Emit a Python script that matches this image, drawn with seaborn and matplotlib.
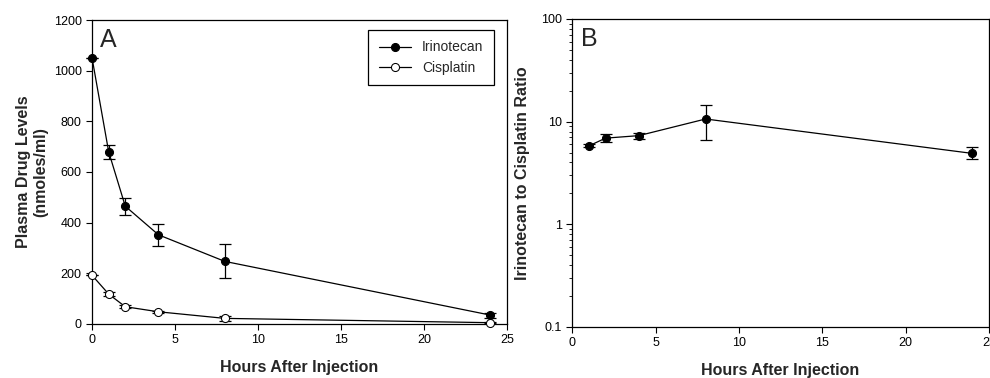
import numpy as np
import pandas as pd
import seaborn as sns
import matplotlib.pyplot as plt

# Panel A data - plasma levels (nmoles/ml)
hours = [0, 1, 2, 4, 8, 24]
irinotecan = [1050, 680, 465, 352, 247, 35]
irinotecan_err = [0, 27, 34, 43, 67, 10]
cisplatin = [192, 118, 68, 48, 22, 5]
cisplatin_err = [0, 8, 5, 4, 10, 2]

# Panel B data - ratio
ratio_hours = [1, 2, 4, 8, 24]
ratio = [5.8, 6.9, 7.3, 10.6, 4.9]
ratio_lo = [5.6, 6.3, 6.8, 6.6, 4.3]
ratio_hi = [6.0, 7.6, 7.8, 14.5, 5.6]

sns.set_style("ticks")
plt.rcParams['font.family'] = ['Liberation Sans', 'DejaVu Sans']
plt.rcParams['axes.linewidth'] = 0.9
plt.rcParams['xtick.major.width'] = 0.8
plt.rcParams['ytick.major.width'] = 0.8
plt.rcParams['xtick.color'] = 'black'
plt.rcParams['ytick.color'] = 'black'
plt.rcParams['axes.edgecolor'] = 'black'

fig = plt.figure(figsize=(9.9, 3.78), dpi=100)
ax1 = fig.add_axes([0.093, 0.143, 0.419, 0.804])
ax2 = fig.add_axes([0.578, 0.135, 0.421, 0.815])

df = pd.DataFrame({"hours": hours * 2,
                   "level": irinotecan + cisplatin,
                   "drug": ["Irinotecan"] * 6 + ["Cisplatin"] * 6})

ms = 5.8
# error bars first
ax1.errorbar(hours, irinotecan, yerr=irinotecan_err, fmt='none', ecolor='black',
             elinewidth=0.9, capsize=4, capthick=0.9, zorder=2, clip_on=False)
ax1.errorbar(hours, cisplatin, yerr=cisplatin_err, fmt='none', ecolor='black',
             elinewidth=0.9, capsize=4, capthick=0.9, zorder=2, clip_on=False)

sns.lineplot(data=df[df.drug == "Irinotecan"], x="hours", y="level", ax=ax1,
             color='black', lw=0.9, marker='o', markersize=ms,
             markerfacecolor='black', markeredgecolor='black',
             label="Irinotecan", zorder=3, clip_on=False)
sns.lineplot(data=df[df.drug == "Cisplatin"], x="hours", y="level", ax=ax1,
             color='black', lw=0.9, marker='o', markersize=ms,
             markerfacecolor='white', markeredgecolor='black',
             label="Cisplatin", zorder=3, clip_on=False)

ax1.set_xlim(0, 25)
ax1.set_ylim(0, 1200)
ax1.set_xticks([0, 5, 10, 15, 20, 25])
ax1.set_yticks(np.arange(0, 1201, 200))
ax1.set_xlabel("Hours After Injection", fontsize=11.5, fontweight='bold', labelpad=10)
ax1.set_ylabel("Plasma Drug Levels\n(nmoles/ml)", fontsize=11.5, fontweight='bold', labelpad=4)
ax1.tick_params(labelsize=9, length=4, direction='out')
ax1.text(0.02, 0.975, "A", transform=ax1.transAxes, fontsize=18, va='top', ha='left')
leg = ax1.legend(loc='upper right', bbox_to_anchor=(0.985, 0.99), fontsize=10,
                 frameon=True, fancybox=False, edgecolor='black', framealpha=1,
                 handlelength=2.3, borderpad=0.75, labelspacing=0.45)
leg.get_frame().set_linewidth(0.9)
for spine in ax1.spines.values():
    spine.set_visible(True)

# Panel B
ax2.errorbar(ratio_hours, ratio,
             yerr=[np.array(ratio) - np.array(ratio_lo), np.array(ratio_hi) - np.array(ratio)],
             fmt='none', ecolor='black', elinewidth=0.9, capsize=4, capthick=0.9, zorder=2)
sns.lineplot(x=ratio_hours, y=ratio, ax=ax2, color='black', lw=0.9, marker='o',
             markersize=ms, markerfacecolor='black', markeredgecolor='black', zorder=3)
ax2.set_yscale('log')
ax2.set_xlim(0, 25)
ax2.set_ylim(0.1, 100)
ax2.set_xticks([0, 5, 10, 15, 20, 25])
ax2.set_yticks([0.1, 1, 10, 100])
ax2.set_yticklabels(["0.1", "1", "10", "100"])
ax2.set_xlabel("Hours After Injection", fontsize=11.5, fontweight='bold', labelpad=10)
ax2.set_ylabel("Irinotecan to Cisplatin Ratio", fontsize=11.5, fontweight='bold', labelpad=8)
ax2.tick_params(labelsize=9, length=4, direction='out')
ax2.tick_params(which='minor', length=2, width=0.6)
ax2.text(0.02, 0.975, "B", transform=ax2.transAxes, fontsize=18, va='top', ha='left')
for spine in ax2.spines.values():
    spine.set_visible(True)

fig.savefig("out.png", dpi=100)
